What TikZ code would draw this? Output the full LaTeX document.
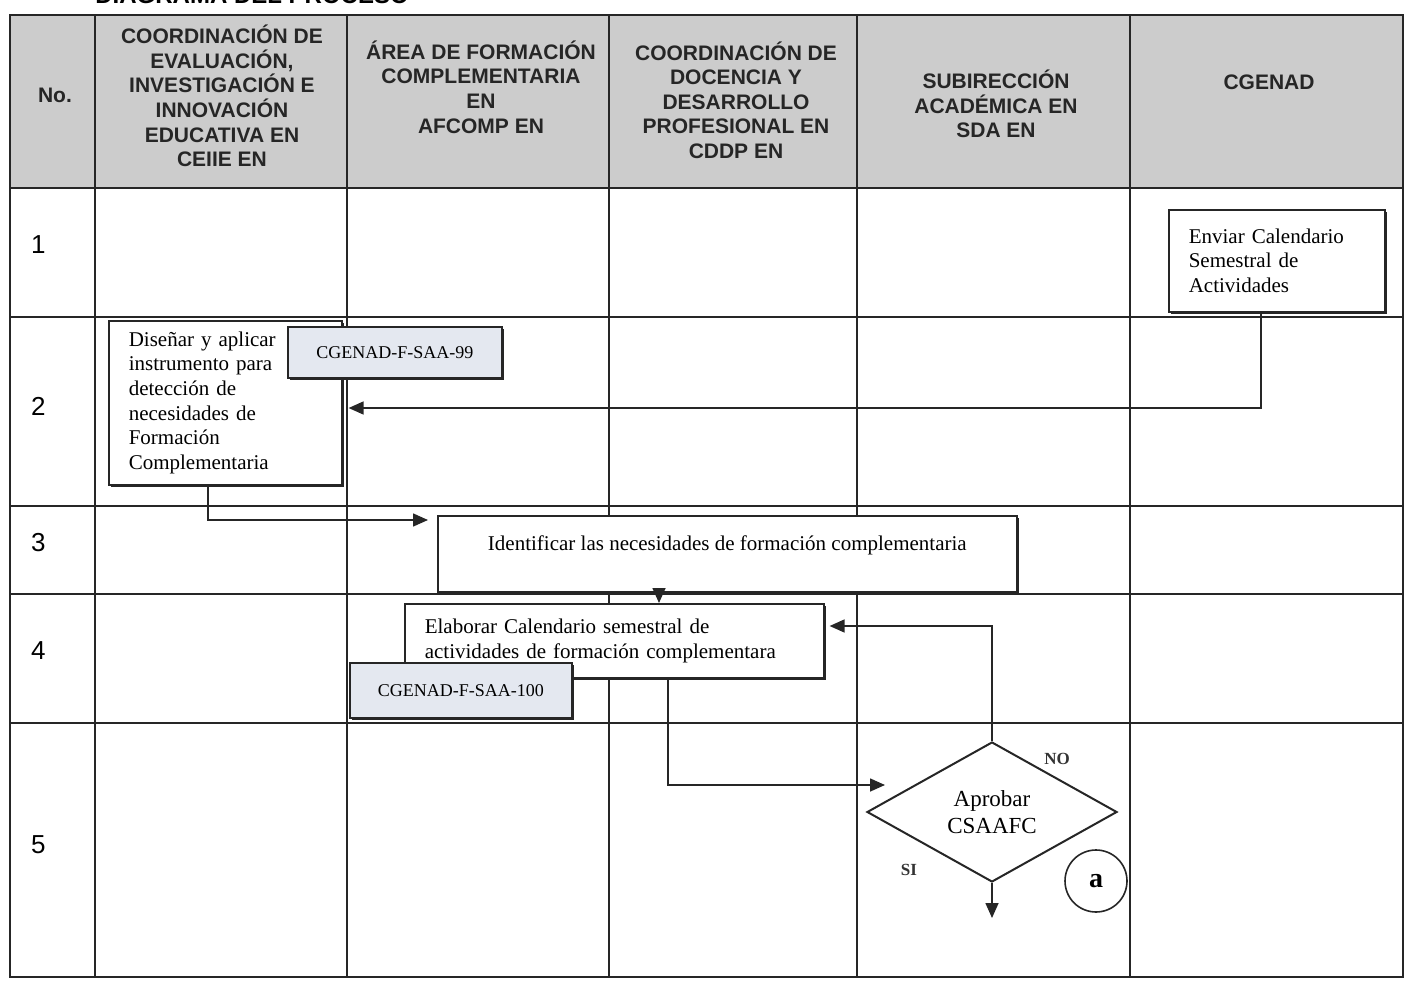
\documentclass[tikz,border=0pt]{standalone}
\usepackage{fontspec}
\setmainfont{Liberation Serif}
\setsansfont{Liberation Sans}
\usetikzlibrary{shapes.geometric,shadows,arrows.meta}
\definecolor{hdr}{RGB}{204,204,204}
\definecolor{tagfill}{RGB}{228,232,240}
\begin{document}
\begin{tikzpicture}[x=0.5pt,y=-0.5pt,
  grid/.style={draw=black!85, line width=0.9pt},
  hdrtext/.style={font=\sffamily\bfseries\fontsize{10.5}{12.3}\selectfont, align=center, text=black!85},
  numtext/.style={font=\sffamily\fontsize{13}{15}\selectfont, anchor=west},
  shadowed/.style={drop shadow={shadow xshift=1.2pt, shadow yshift=-1.2pt, fill=black!85, opacity=1}},
  box/.style={draw=black!85, line width=0.8pt, fill=white, shadowed, inner ysep=0pt,
     font=\fontsize{10.5}{12.3}\selectfont, anchor=north west},
  tagbox/.style={draw=black!85, line width=0.8pt, fill=tagfill, shadowed, inner sep=0pt,
     font=\fontsize{9}{11}\selectfont, anchor=north west},
  arr/.style={draw=black!85, line width=0.8pt, -{Triangle[length=7.5pt,width=6.5pt]}},
  lbl/.style={font=\bfseries\fontsize{8.5}{10}\selectfont, text=black!80}]
\useasboundingbox (0,0) rectangle (1408,984);
% title (cut off at the top of the page, as in the scan)
\node[font=\sffamily\bfseries\fontsize{12}{14}\selectfont, anchor=base west, inner sep=0pt] (title) at (95,4) {DIAGRAMA DEL PROCESO};
% table
\fill[hdr] (10,15) rectangle (1403,188);
\draw[grid] (10,15) rectangle (1403,977);
\foreach \x in {95,347,609,857,1130} \draw[grid] (\x,15) -- (\x,977);
\foreach \y in {188,317,506,594,723} \draw[grid] (10,\y) -- (1403,\y);
% header
\node[hdrtext] (h0) at (55,95) {No.};
\node[hdrtext] (h1) at (222,96) {COORDINACIÓN DE\\EVALUACIÓN,\\INVESTIGACIÓN E\\INNOVACIÓN\\EDUCATIVA EN\\CEIIE EN};
\node[hdrtext] (h2) at (481,87) {ÁREA DE FORMACIÓN\\COMPLEMENTARIA\\EN\\AFCOMP EN};
\node[hdrtext] (h3) at (736,100) {COORDINACIÓN DE\\DOCENCIA Y\\DESARROLLO\\PROFESIONAL EN\\CDDP EN};
\node[hdrtext] (h4) at (996,104) {SUBIRECCIÓN\\ACADÉMICA EN\\SDA EN};
\node[hdrtext] (h5) at (1269,82) {CGENAD};
% row numbers
\node[numtext] (n1) at (24,245) {1};
\node[numtext] (n2) at (24,406) {2};
\node[numtext] (n3) at (24,543) {3};
\node[numtext] (n4) at (24,651) {4};
\node[numtext] (n5) at (24,845) {5};
% boxes
\node[box, inner xsep=10pt, text width=88pt, minimum height=51pt, align=left] (env) at (1168,209)
  {Enviar Calendario\\Semestral de\\Actividades};
\node[box, inner xsep=10pt, text width=96.5pt, minimum height=82pt, align=left] (dis) at (108,320)
  {Diseñar y aplicar\\instrumento para\\detección de\\necesidades de\\Formación\\Complementaria};
\node[tagbox, minimum width=107pt, minimum height=25.5pt] (cg99) at (287,326) {CGENAD-F-SAA-99};
\node[box, inner xsep=0pt, minimum width=289.5pt, text height=17.5pt, text depth=20.5pt, align=center] (ident) at (437,515)
  {Identificar las necesidades de formación complementaria};
\node[box, inner xsep=10pt, text width=189.5pt, minimum height=37pt, align=left] (elab) at (404,603)
  {Elaborar Calendario semestral de\\actividades de formación complementara};
\node[tagbox, minimum width=111pt, minimum height=27.5pt] (cg100) at (349,662) {CGENAD-F-SAA-100};
\node[draw=black!85, line width=1pt, fill=white, diamond, minimum width=125pt, minimum height=70pt, inner sep=0pt,
  align=center, font=\fontsize{11.5}{13.5}\selectfont] (dia) at (992,812) {Aprobar\\CSAAFC};
\node[draw=black!85, line width=0.8pt, circle, minimum size=31pt, inner sep=0pt,
  font=\bfseries\fontsize{14}{16}\selectfont] (ca) at (1096,881) {a};
\node[lbl] (no) at (1057,759) {NO};
\node[lbl] (si) at (909,870) {SI};
% connectors
\coordinate (p4) at (885,785);
\coordinate (p6) at (992,918);
\draw[arr, shorten >=3pt] (1261,0 |- env.south) |- (dis.east |- 0,408);
\draw[arr, shorten >=4.5pt] (208,0 |- dis.south) |- (ident.west |- 0,520);
\draw[arr] (659,0 |- ident.south) -- (659,0 |- elab.north);
\draw[arr] (668,0 |- elab.south) |- (p4);
\draw[arr, shorten >=2.5pt] (dia.north) |- (elab.east |- 0,626);
\draw[arr] (dia.south) -- (p6);
\end{tikzpicture}
\end{document}
